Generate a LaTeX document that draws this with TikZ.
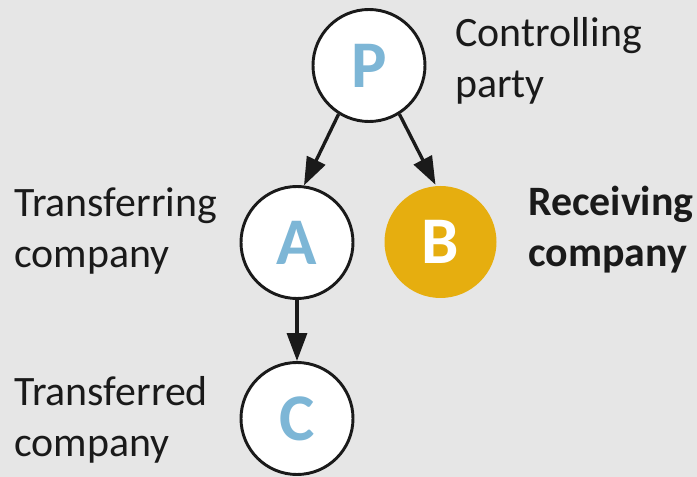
\documentclass[tikz,border=0pt]{standalone}
\usepackage{fontspec}
\setmainfont{Carlito}
\usetikzlibrary{arrows.meta}
\definecolor{bgcol}{HTML}{E6E6E6}
\definecolor{letterblue}{HTML}{7DB6D6}
\definecolor{gold}{HTML}{E6AE0F}
\definecolor{ink}{HTML}{1A1A1A}
\tikzset{
  entity/.style={circle, minimum size=84pt, inner sep=0pt, line width=2.2pt,
    font=\fontsize{50pt}{51pt}\selectfont\bfseries},
  plain/.style={entity, draw=ink, fill=white, text=letterblue},
  highlight/.style={entity, fill=gold, text=white},
  caption/.style={anchor=base west, inner sep=0pt, align=left, text=ink,
    font=\fontsize{31.4pt}{38.3pt}\selectfont},
  link/.style={draw=ink, line width=2.5pt, -{Triangle[length=21pt, width=15pt]}}
}
\begin{document}
\begin{tikzpicture}[x=0.75pt, y=-0.75pt]
  % canvas
  \fill[bgcol] (0,0) rectangle (697,477);
  \useasboundingbox (0,0) rectangle (697,477);

  % entities
  \node[plain]     (P) at (369,65.5)  {P};
  \node[plain]     (A) at (297,242.5) {A};
  \node[highlight] (B) at (440.5,242) {B};
  \node[plain]     (C) at (297,418.5) {C};

  % ownership links
  \draw[link] (P.238) -- (A.83);
  \draw[link] (P.302) -- (B.95);
  \draw[link] (A.south) -- (C.north);

  % role captions (anchored at the baseline of the last line)
  \node[caption] (capP) at (455,98)  {Controlling\\party};
  \node[caption] (capA) at (14,268)  {Transferring\\company};
  \node[caption, font=\fontsize{31.4pt}{38.3pt}\selectfont\bfseries] (capB) at (528,267) {Receiving\\company};
  \node[caption] (capC) at (14,457)  {Transferred\\company};
\end{tikzpicture}
\end{document}
